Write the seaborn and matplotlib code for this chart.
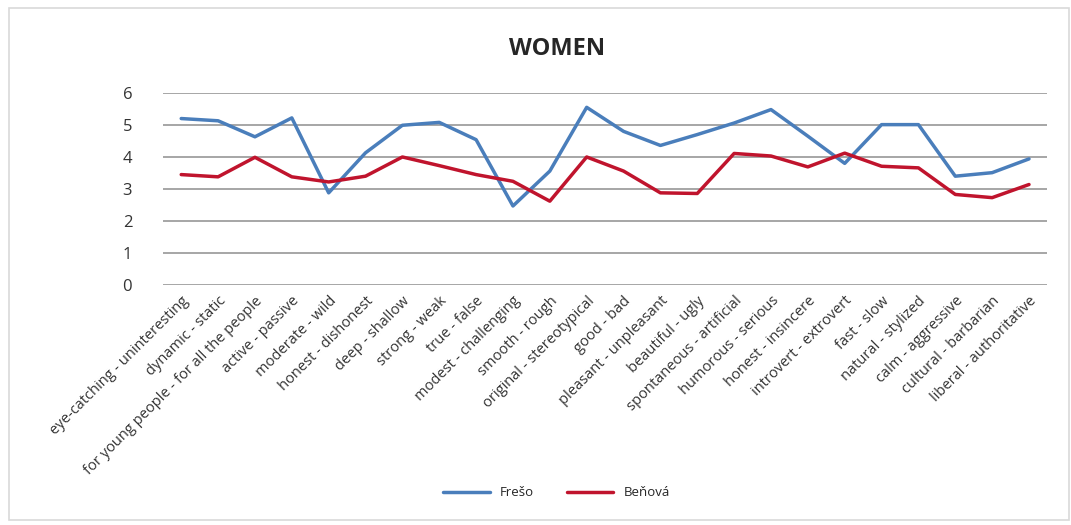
import numpy as np
import pandas as pd
import seaborn as sns
from matplotlib import pyplot as plt
from matplotlib.patches import Rectangle

# Semantic differential pairs
pairs = [
    'eye-catching - uninteresting', 'dynamic - static', 'for young people - for all the people',
    'active - passive', 'moderate - wild', 'honest - dishonest', 'deep - shallow',
    'strong - weak', 'true - false', 'modest - challenging', 'smooth - rough',
    'original - stereotypical', 'good - bad', 'pleasant - unpleasant', 'beautiful - ugly',
    'spontaneous - artificial', 'humorous - serious', 'honest - insincere',
    'introvert - extrovert', 'fast - slow', 'natural - stylized', 'calm - aggressive',
    'cultural - barbarian', 'liberal - authoritative',
]

freso = [5.20, 5.13, 4.63, 5.22, 2.88, 4.13, 4.99, 5.08, 4.54, 2.47, 3.56, 5.55,
         4.80, 4.36, 4.70, 5.06, 5.48, 4.65, 3.80, 5.01, 5.01, 3.40, 3.51, 3.94]
benova = [3.45, 3.38, 3.99, 3.38, 3.22, 3.40, 4.00, 3.73, 3.45, 3.24, 2.62, 4.00,
          3.56, 2.88, 2.86, 4.11, 4.03, 3.69, 4.12, 3.71, 3.66, 2.83, 2.73, 3.14]

series_names = ['Frešo', 'Beňová']
colors = ['#4A7EBB', '#C0142D']

df = pd.concat([
    pd.DataFrame({'pos': range(len(pairs)), 'pair': pairs, 'score': vals, 'who': name})
    for name, vals in zip(series_names, [freso, benova])
])

sns.set_style('white')
plt.rcParams['font.family'] = ['Open Sans', 'DejaVu Sans']

fig = plt.figure(figsize=(10.71, 5.25), dpi=100)
ax = fig.add_axes([0.152, 0.457, 0.826, 0.366])

sns.lineplot(data=df, x='pos', y='score', hue='who', palette=colors, linewidth=2.5,
             ax=ax, legend=True, zorder=5)

ax.set_xlim(-0.5, len(pairs) - 0.5)
ax.set_ylim(0, 6)
ax.set_yticks(range(0, 7))
ax.yaxis.grid(True, color='#A6A6A6', linewidth=1.4)
ax.xaxis.grid(False)
for s in ax.spines.values():
    s.set_visible(False)
ax.tick_params(axis='y', length=0, pad=22, labelsize=12, labelcolor='#333333')
ax.set_xticks(range(len(pairs)))
ax.set_xticklabels(pairs, rotation=45, ha='right', rotation_mode='anchor',
                   fontsize=10.5, color='#333333')
ax.tick_params(axis='x', length=0, pad=6)
ax.set_xlabel('')
ax.set_ylabel('')

fig.suptitle('WOMEN', x=0.52, y=0.93, fontsize=17, fontweight='bold')

handles, labels = ax.get_legend_handles_labels()
ax.legend(handles, labels, loc='center', bbox_to_anchor=(0.52, 0.061),
          bbox_transform=fig.transFigure, ncol=2, frameon=False, fontsize=9.5,
          handlelength=3.5, columnspacing=2.5)

# Chart area border
fig.patches.append(Rectangle((0.008, 0.01), 0.99, 0.975, transform=fig.transFigure,
                             fill=False, edgecolor='#D9D9D9', linewidth=1.2))

fig.savefig('out.png', dpi=100)
